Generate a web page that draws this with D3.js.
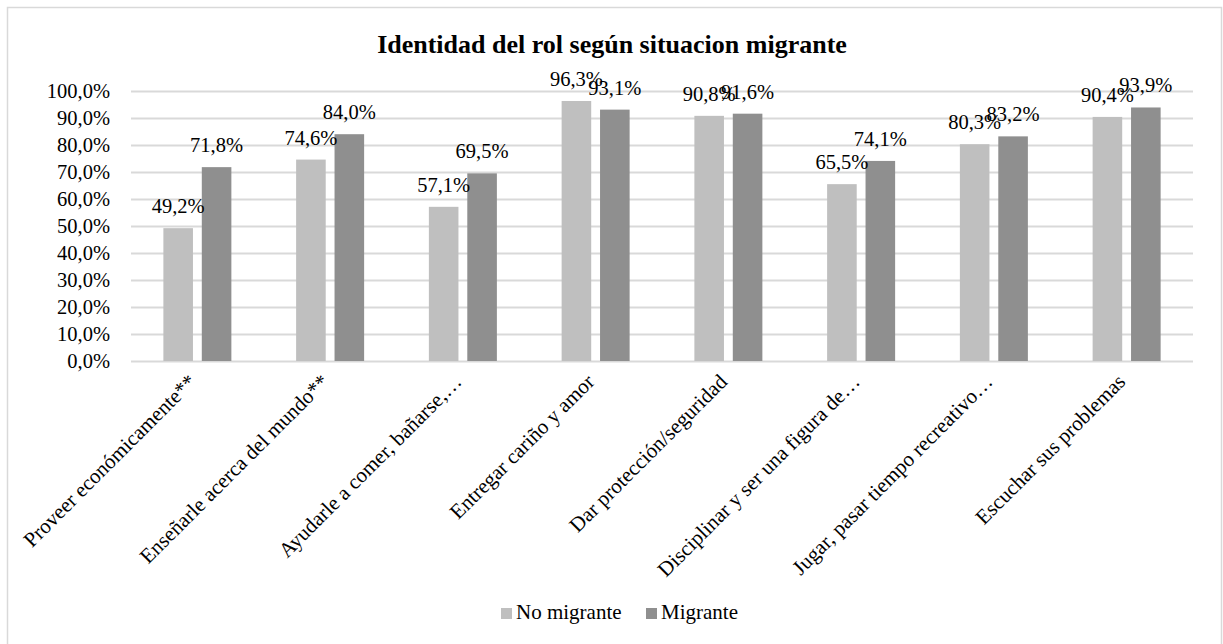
<!DOCTYPE html>
<html>
<head>
<meta charset="utf-8">
<script src="https://cdn.jsdelivr.net/npm/d3@7"></script>
<style>
  html, body { margin: 0; padding: 0; background: #fff; }
</style>
</head>
<body>
<svg id="chart" width="1223" height="644"></svg>
<script>
const categories = [
  "Proveer económicamente**",
  "Enseñarle acerca del mundo**",
  "Ayudarle a comer, bañarse,…",
  "Entregar cariño y amor",
  "Dar protección/seguridad",
  "Disciplinar y ser una figura de…",
  "Jugar, pasar tiempo recreativo…",
  "Escuchar sus problemas"
];
const seriesNames = ["No migrante", "Migrante"];
const noMigrante = [49.2, 74.6, 57.1, 96.3, 90.8, 65.5, 80.3, 90.4];
const migrante = [71.8, 84.0, 69.5, 93.1, 91.6, 74.1, 83.2, 93.9];
const yTicks = [0, 10, 20, 30, 40, 50, 60, 70, 80, 90, 100];
const titleText = "Identidad del rol según situacion migrante";
</script>
<script>
const FONT = '"Liberation Serif"';
const colors = ["#bfbfbf", "#8f8f8f"];
const fmt = v => v.toFixed(1).replace(".", ",") + "%";

const svg = d3.select("#chart");

// outer frame
svg.append("rect")
  .attr("x", 7.5).attr("y", 7.5)
  .attr("width", 1214).attr("height", 660)
  .attr("fill", "#fff").attr("stroke", "#d9d9d9").attr("stroke-width", 1.5);

const plot = { left: 131, right: 1193, top: 91, bottom: 361 };

const x = d3.scaleBand().domain(categories).range([plot.left, plot.right]).paddingInner(0).paddingOuter(0);
const y = d3.scaleLinear().domain([0, 100]).range([plot.bottom, plot.top]);
const sub = d3.scaleBand().domain(seriesNames).range([-34, 34]).paddingInner(0.23).paddingOuter(0);

// title
svg.append("text")
  .attr("x", 612).attr("y", 53)
  .attr("text-anchor", "middle")
  .style("font-family", FONT)
  .style("font-weight", "bold")
  .style("font-size", "26px")
  .text(titleText);

// gridlines
svg.append("g").selectAll("line").data(yTicks).join("line")
  .attr("x1", plot.left).attr("x2", plot.right)
  .attr("y1", d => Math.round(y(d)) + 0.5).attr("y2", d => Math.round(y(d)) + 0.5)
  .attr("stroke", "#d9d9d9").attr("stroke-width", 2);

// y axis labels
const yAxis = d3.axisLeft(y).tickValues(yTicks).tickFormat(d => d.toFixed(1).replace(".", ",") + "%").tickSize(0).tickPadding(21);
const yg = svg.append("g").attr("transform", `translate(${plot.left},0)`).call(yAxis);
yg.select(".domain").remove();
yg.attr("font-family", null).attr("font-size", null);
yg.selectAll("text").style("font-family", FONT).style("font-size", "20.5px").attr("fill", "#000");

// bars
const data = categories.map((c, i) => ({ c, vals: [noMigrante[i], migrante[i]] }));
const groups = svg.append("g").selectAll("g").data(data).join("g")
  .attr("transform", d => `translate(${x(d.c) + x.bandwidth() / 2},0)`);

groups.selectAll("rect").data(d => d.vals.map((v, k) => ({ v, k }))).join("rect")
  .attr("x", d => sub(seriesNames[d.k]))
  .attr("width", sub.bandwidth())
  .attr("y", d => y(d.v))
  .attr("height", d => y(0) - y(d.v))
  .attr("fill", d => colors[d.k]);

groups.selectAll("text.val").data(d => d.vals.map((v, k) => ({ v, k }))).join("text")
  .attr("class", "val")
  .attr("x", d => sub(seriesNames[d.k]) + sub.bandwidth() / 2)
  .attr("y", d => y(d.v) - 15)
  .attr("text-anchor", "middle")
  .style("font-family", FONT)
  .style("font-size", "20.5px")
  .text(d => fmt(d.v));

// category labels, rotated
svg.append("g").selectAll("text").data(categories).join("text")
  .attr("transform", d => `translate(${x(d) + x.bandwidth() / 2},${plot.bottom + 22}) rotate(-45)`)
  .attr("text-anchor", "end")
  .style("font-family", FONT)
  .style("font-size", "21px")
  .text(d => d);

// legend
const legend = svg.append("g").attr("transform", "translate(501,608)");
const legendItems = [
  { name: seriesNames[0], x: 0 },
  { name: seriesNames[1], x: 145 }
];
legendItems.forEach((it, k) => {
  legend.append("rect").attr("x", it.x).attr("y", 0).attr("width", 11).attr("height", 11).attr("fill", colors[k]);
  legend.append("text").attr("x", it.x + 15).attr("y", 10.5)
    .style("font-family", FONT).style("font-size", "21px").text(it.name);
});
</script>
</body>
</html>
